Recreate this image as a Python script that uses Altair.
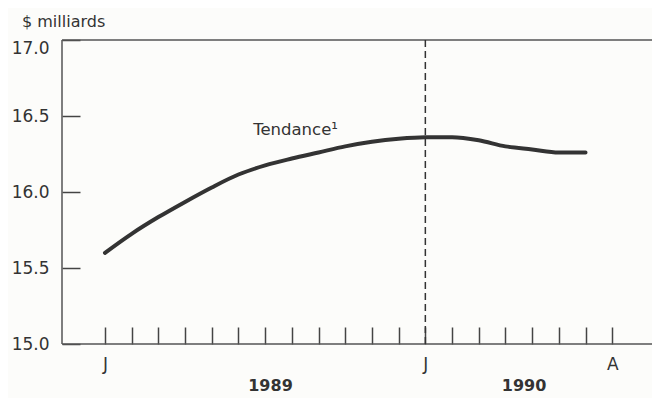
import altair as alt
import pandas as pd

# ---- data ----
months = ["1989-01", "1989-02", "1989-03", "1989-04", "1989-05", "1989-06",
          "1989-07", "1989-08", "1989-09", "1989-10", "1989-11", "1989-12",
          "1990-01", "1990-02", "1990-03", "1990-04", "1990-05", "1990-06",
          "1990-07"]
trend = [15.60, 15.725, 15.835, 15.935, 16.03, 16.115, 16.175, 16.22, 16.26, 16.30,
         16.33, 16.35, 16.36, 16.36, 16.34, 16.30, 16.28, 16.26, 16.26]

tick_months = list(range(20))              # Jan 1989 .. Aug 1990
tick_text = {0: "J", 12: "J", 19: "A"}
y_ticks = [15.0, 15.5, 16.0, 16.5, 17.0]
years = ["1989", "1990"]
year_pos = [6.2, 15.7]
divider_month = [12]
annotation = ["Tendance\u00b9"]
annotation_pos = [5.55]
annotation_val = [16.41]

x_domain = [-1.61, 20.49]
y_domain = [15.0, 17.0]

FONT = "DejaVu Sans"
INK = "#333333"

df = pd.DataFrame({"m": list(range(len(trend))), "month": months, "v": trend})

xscale = alt.Scale(domain=x_domain, nice=False, zero=False)
yscale = alt.Scale(domain=y_domain, nice=False, zero=False)

label_expr = " : ".join(f"datum.value == {k} ? '{v}'" for k, v in tick_text.items()) + " : ''"

x_axis = alt.Axis(values=tick_months, tickCount=60, labelExpr=label_expr, tickSize=17, offset=-17,
                  domain=False, grid=False, tickColor="#444444", tickWidth=1.5,
                  labelFont=FONT, labelFontSize=17, labelColor=INK, labelPadding=12,
                  labelAngle=0, labelOverlap=False, labelFlush=False, title=None)

y_axis = alt.Axis(values=y_ticks, tickCount=20, format=".1f", tickSize=18, offset=-18,
                  domain=False, grid=False, tickColor="#444444", tickWidth=1.5,
                  labelFont=FONT, labelFontSize=17, labelColor=INK, labelPadding=13,
                  labelOverlap=False, labelFlush=False, title=None,
                  labelBaseline={"condition": {"test": "datum.value == 17", "value": "top"},
                                 "value": "middle"})

base = alt.Chart(df)

line = base.mark_line(interpolate="monotone", color=INK, strokeWidth=4,
                      strokeCap="round").encode(
    x=alt.X("m:Q", scale=xscale, axis=x_axis),
    y=alt.Y("v:Q", scale=yscale, axis=y_axis),
)

div = alt.Chart(pd.DataFrame({"m": divider_month})).mark_rule(
    color=INK, strokeWidth=1.5, strokeDash=[7, 4]).encode(
    x=alt.X("m:Q", scale=xscale))

frame_h = alt.Chart(pd.DataFrame({"v": y_domain})).mark_rule(
    color="#555555", strokeWidth=1.5).encode(y=alt.Y("v:Q", scale=yscale))
frame_v = alt.Chart(pd.DataFrame({"m": [x_domain[0]]})).mark_rule(
    color="#555555", strokeWidth=1.5).encode(x=alt.X("m:Q", scale=xscale))

ann = alt.Chart(pd.DataFrame({"m": annotation_pos, "v": annotation_val, "t": annotation})).mark_text(
    align="left", baseline="middle", font=FONT, fontSize=16.5, color=INK).encode(
    x=alt.X("m:Q", scale=xscale), y=alt.Y("v:Q", scale=yscale), text="t:N")

yr = alt.Chart(pd.DataFrame({"m": year_pos, "t": years})).mark_text(
    align="center", baseline="middle", font=FONT, fontSize=16, fontWeight="bold",
    color=INK).encode(
    x=alt.X("m:Q", scale=xscale), y=alt.value(346), text="t:N")

chart = alt.layer(line, frame_h, frame_v, div, ann, yr).properties(
    width=590, height=304,
    padding={"left": 54, "top": 32, "right": 0, "bottom": 54},
    autosize="none",
    background="#fcfcfa",
    title=alt.TitleParams(text="$ milliards", anchor="start", frame="group", dx=-40, offset=9,
                          font=FONT, fontSize=16, fontWeight="normal", color=INK),
).configure_view(stroke=None)

chart.save("out.html", embed_options={"renderer": "svg", "actions": False})
